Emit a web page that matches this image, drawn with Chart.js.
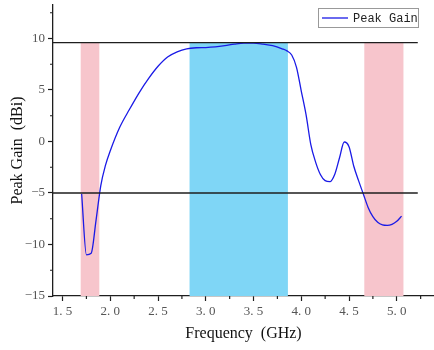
<!DOCTYPE html>
<html lang="en">
<head>
<meta charset="UTF-8">
<title>Peak Gain</title>
<script src="https://cdn.jsdelivr.net/npm/chart.js"></script>
<style>
  body { margin: 0; background: #fff; }
  #wrap { width: 434px; height: 350px; }
</style>
</head>
<body>
<div id="wrap"><canvas id="gainChart"></canvas></div>
<script>
// Peak gain curve
const freq = [1.70, 1.75, 1.80, 1.85, 1.90, 1.95, 2.00, 2.10, 2.20, 2.30, 2.40, 2.50, 2.60, 2.70, 2.80, 2.90,
              3.00, 3.10, 3.20, 3.30, 3.40, 3.50, 3.60, 3.70, 3.80, 3.85, 3.90, 3.95, 4.00, 4.05, 4.10, 4.15,
              4.20, 4.25, 4.30, 4.35, 4.40, 4.45, 4.50, 4.55, 4.60, 4.65, 4.70, 4.75, 4.80, 4.85, 4.90, 4.95,
              5.00, 5.05];
const gain = [-5.1, -11.0, -10.85, -7.7, -4.3, -2.3, -0.9, 1.4, 3.1, 4.7, 6.1, 7.3, 8.2, 8.7, 9.0, 9.1,
              9.12, 9.18, 9.3, 9.45, 9.55, 9.55, 9.45, 9.3, 9.0, 8.8, 8.4, 7.2, 4.9, 2.6, -0.3, -2.0,
              -3.2, -3.8, -3.9, -3.2, -1.6, -0.05, -0.5, -2.4, -3.8, -5.1, -6.4, -7.3, -7.85, -8.1, -8.15, -8.05,
              -7.75, -7.25];

// shaded frequency bands (GHz)
const pinkBands = [[1.69, 1.885], [4.66, 5.07]];
const blueBands = [[2.83, 3.86]];
const bandTop = 9.6;

// horizontal reference lines (dBi)
const refLevels = [9.6, -5];
const refStart = 1.4;
const refEnd = 5.22;

// axis ticks
const xMajor = [1.5, 2.0, 2.5, 3.0, 3.5, 4.0, 4.5, 5.0];
const xMinor = [1.75, 2.25, 2.75, 3.25, 3.75, 4.25, 4.75, 5.25];
const yMajor = [-15, -10, -5, 0, 5, 10];
const yMinor = [-12.5, -7.5, -2.5, 2.5, 7.5, 12.5];

const bandsPlugin = {
  id: 'bands',
  beforeDatasetsDraw(chart) {
    const {ctx, chartArea, scales: {x, y}} = chart;
    const top = y.getPixelForValue(bandTop);
    ctx.save();
    const paint = (bands, color) => {
      ctx.fillStyle = color;
      bands.forEach(([a, b]) => {
        const l = x.getPixelForValue(a), r = x.getPixelForValue(b);
        ctx.fillRect(l, top, r - l, chartArea.bottom - top);
      });
    };
    paint(pinkBands, '#f7c5cc');
    paint(blueBands, '#7fd6f6');
    ctx.restore();
  }
};

// short minor tick marks + legend box
const extrasPlugin = {
  id: 'extras',
  afterDraw(chart) {
    const {ctx, chartArea, scales: {x, y}} = chart;
    ctx.save();
    ctx.strokeStyle = '#222';
    ctx.lineWidth = 1.2;
    ctx.beginPath();
    xMinor.forEach(v => {
      const px = x.getPixelForValue(v);
      ctx.moveTo(px, chartArea.bottom);
      ctx.lineTo(px, chartArea.bottom + 3);
    });
    yMinor.forEach(v => {
      const py = y.getPixelForValue(v);
      ctx.moveTo(chartArea.left, py);
      ctx.lineTo(chartArea.left - 3, py);
    });
    ctx.stroke();

    // legend
    const bx = chartArea.right - 116, by = 8, bw = 100, bh = 19;
    ctx.fillStyle = '#fff';
    ctx.fillRect(bx, by, bw, bh);
    ctx.strokeStyle = '#999';
    ctx.lineWidth = 1;
    ctx.strokeRect(bx + 0.5, by + 0.5, bw, bh);
    ctx.strokeStyle = '#1a1ae6';
    ctx.lineWidth = 1.3;
    ctx.beginPath();
    ctx.moveTo(bx + 4, by + 10);
    ctx.lineTo(bx + 30, by + 10);
    ctx.stroke();
    ctx.fillStyle = '#222';
    ctx.font = '12px "Liberation Mono", monospace';
    ctx.textBaseline = 'middle';
    ctx.fillText('Peak Gain', bx + 35, by + 10.5);
    ctx.restore();
  }
};

const refSets = refLevels.map(v => ({
  data: [{x: refStart, y: v}, {x: refEnd, y: v}],
  borderColor: '#1e1e1e',
  borderWidth: 1.3,
  pointRadius: 0,
  tension: 0
}));

new Chart(document.getElementById('gainChart'), {
  type: 'line',
  data: {
    datasets: [
      ...refSets,
      {
        label: 'Peak Gain',
        data: freq.map((f, i) => ({x: f, y: gain[i]})),
        borderColor: '#1a1ae6',
        borderWidth: 1.3,
        pointRadius: 0,
        cubicInterpolationMode: 'monotone'
      }
    ]
  },
  options: {
    responsive: true,
    maintainAspectRatio: false,
    animation: false,
    layout: {padding: {top: 5, right: 0, left: 0, bottom: 0}},
    plugins: {legend: {display: false}, tooltip: {enabled: false}},
    scales: {
      x: {
        type: 'linear',
        min: 1.4,
        max: 5.39,
        afterBuildTicks: s => { s.ticks = xMajor.map(v => ({value: v})); },
        afterFit: s => { s.height = 54; s.paddingLeft = 0; s.paddingRight = 0; },
        border: {display: true, color: '#1e1e1e', width: 1.3},
        grid: {drawOnChartArea: false, drawTicks: true, tickLength: 5, tickWidth: 1.2, tickColor: '#1e1e1e'},
        ticks: {
          color: '#555',
          padding: 3,
          maxRotation: 0,
          font: {family: '"Liberation Serif", serif', size: 13},
          callback: v => v.toFixed(1).replace('.', '. ')
        },
        title: {
          display: true,
          text: 'Frequency  (GHz)',
          color: '#111',
          padding: {top: 0, bottom: 7},
          font: {family: '"Liberation Serif", serif', size: 16}
        }
      },
      y: {
        min: -15,
        max: 13.25,
        afterBuildTicks: s => { s.ticks = yMajor.map(v => ({value: v})); },
        afterFit: s => { s.width = 53; s.paddingTop = 0; s.paddingBottom = 0; },
        border: {display: true, color: '#1e1e1e', width: 1.3},
        grid: {drawOnChartArea: false, drawTicks: true, tickLength: 5, tickWidth: 1.2, tickColor: '#1e1e1e'},
        ticks: {
          color: '#555',
          padding: 3,
          font: {family: '"Liberation Serif", serif', size: 13},
          callback: v => (v < 0 ? '\u2212' + Math.abs(v) : String(v))
        },
        title: {
          display: true,
          text: 'Peak Gain  (dBi)',
          color: '#111',
          padding: {top: 8, bottom: 0},
          font: {family: '"Liberation Serif", serif', size: 16}
        }
      }
    }
  },
  plugins: [bandsPlugin, extrasPlugin]
});
</script>
</body>
</html>
